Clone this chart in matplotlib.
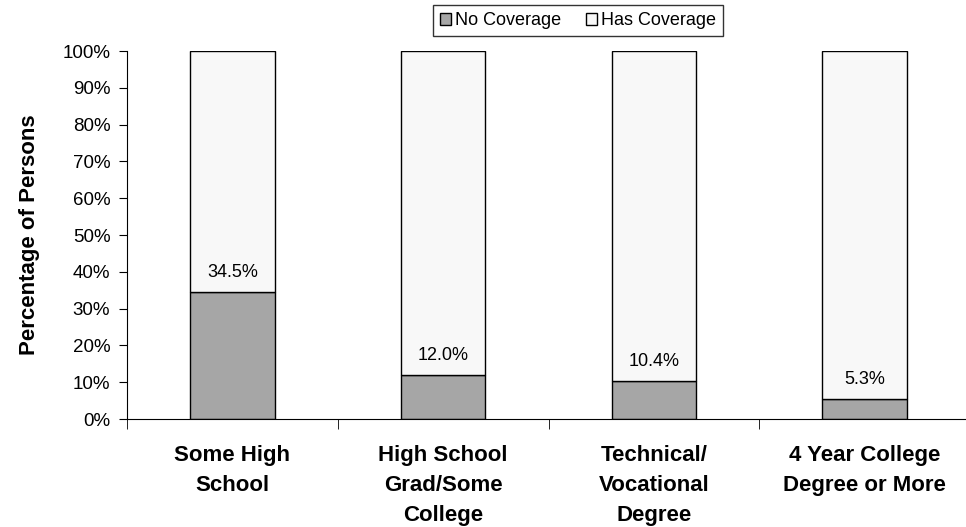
import numpy as np
import matplotlib
matplotlib.use('Agg')
from matplotlib import pyplot as plt
from matplotlib.patches import Patch

plt.rcParams['font.family'] = ['Liberation Sans', 'DejaVu Sans']

categories = ['Some High\nSchool', 'High School\nGrad/Some\nCollege',
              'Technical/\nVocational\nDegree', '4 Year College\nDegree or More']
no_coverage = [34.5, 12.0, 10.4, 5.3]
has_coverage = [100 - v for v in no_coverage]

fig = plt.figure(figsize=(9.66, 5.27), dpi=100)
ax = fig.add_axes([127 / 966, 1 - 419 / 527, 843 / 966, 368 / 527])

x = np.arange(len(categories))
ax.bar(x, no_coverage, width=0.4, color='#a6a6a6', edgecolor='black', linewidth=1)
ax.bar(x, has_coverage, width=0.4, bottom=no_coverage, color='#f8f8f8',
       edgecolor='black', linewidth=1)

# Beschriftung ueber den grauen Balken
for xi, v in zip(x, no_coverage):
    ax.annotate(f'{v:.1f}%', (xi, v), xytext=(0, 8), textcoords='offset points',
                ha='center', va='bottom', fontsize=13)

ax.set_xlim(-0.5, len(categories) - 0.5)
ax.set_ylim(0, 100)
ax.set_yticks(np.arange(0, 101, 10))
ax.set_yticklabels([f'{t}%' for t in range(0, 101, 10)], fontsize=13.5)
ax.set_xticks(x)
ax.set_xticklabels(categories, fontsize=16, fontweight='bold', linespacing=1.55)
ax.set_xticks(np.arange(-0.5, len(categories)), minor=True)
ax.tick_params(axis='x', which='major', length=0, pad=19)
ax.tick_params(axis='x', which='minor', length=7, direction='out')
ax.tick_params(axis='y', length=6, direction='out', pad=6)
ax.spines['top'].set_visible(False)
ax.spines['right'].set_visible(False)
ax.set_ylabel('Percentage of Persons', fontsize=16, fontweight='bold', labelpad=16)

handles = [Patch(facecolor='#a6a6a6', edgecolor='black', label='No Coverage'),
           Patch(facecolor='#f8f8f8', edgecolor='black', label='Has Coverage')]
leg = fig.legend(handles=handles, loc='upper center', bbox_to_anchor=(578 / 966, 1 - 5 / 527),
                 ncol=2, fontsize=13, frameon=True, fancybox=False, edgecolor='black',
                 handlelength=0.6, handleheight=0.6, handletextpad=0.2, columnspacing=1.4,
                 borderpad=0.4, borderaxespad=0)
leg.get_frame().set_linewidth(1)

plt.savefig('out.png', dpi=100)
